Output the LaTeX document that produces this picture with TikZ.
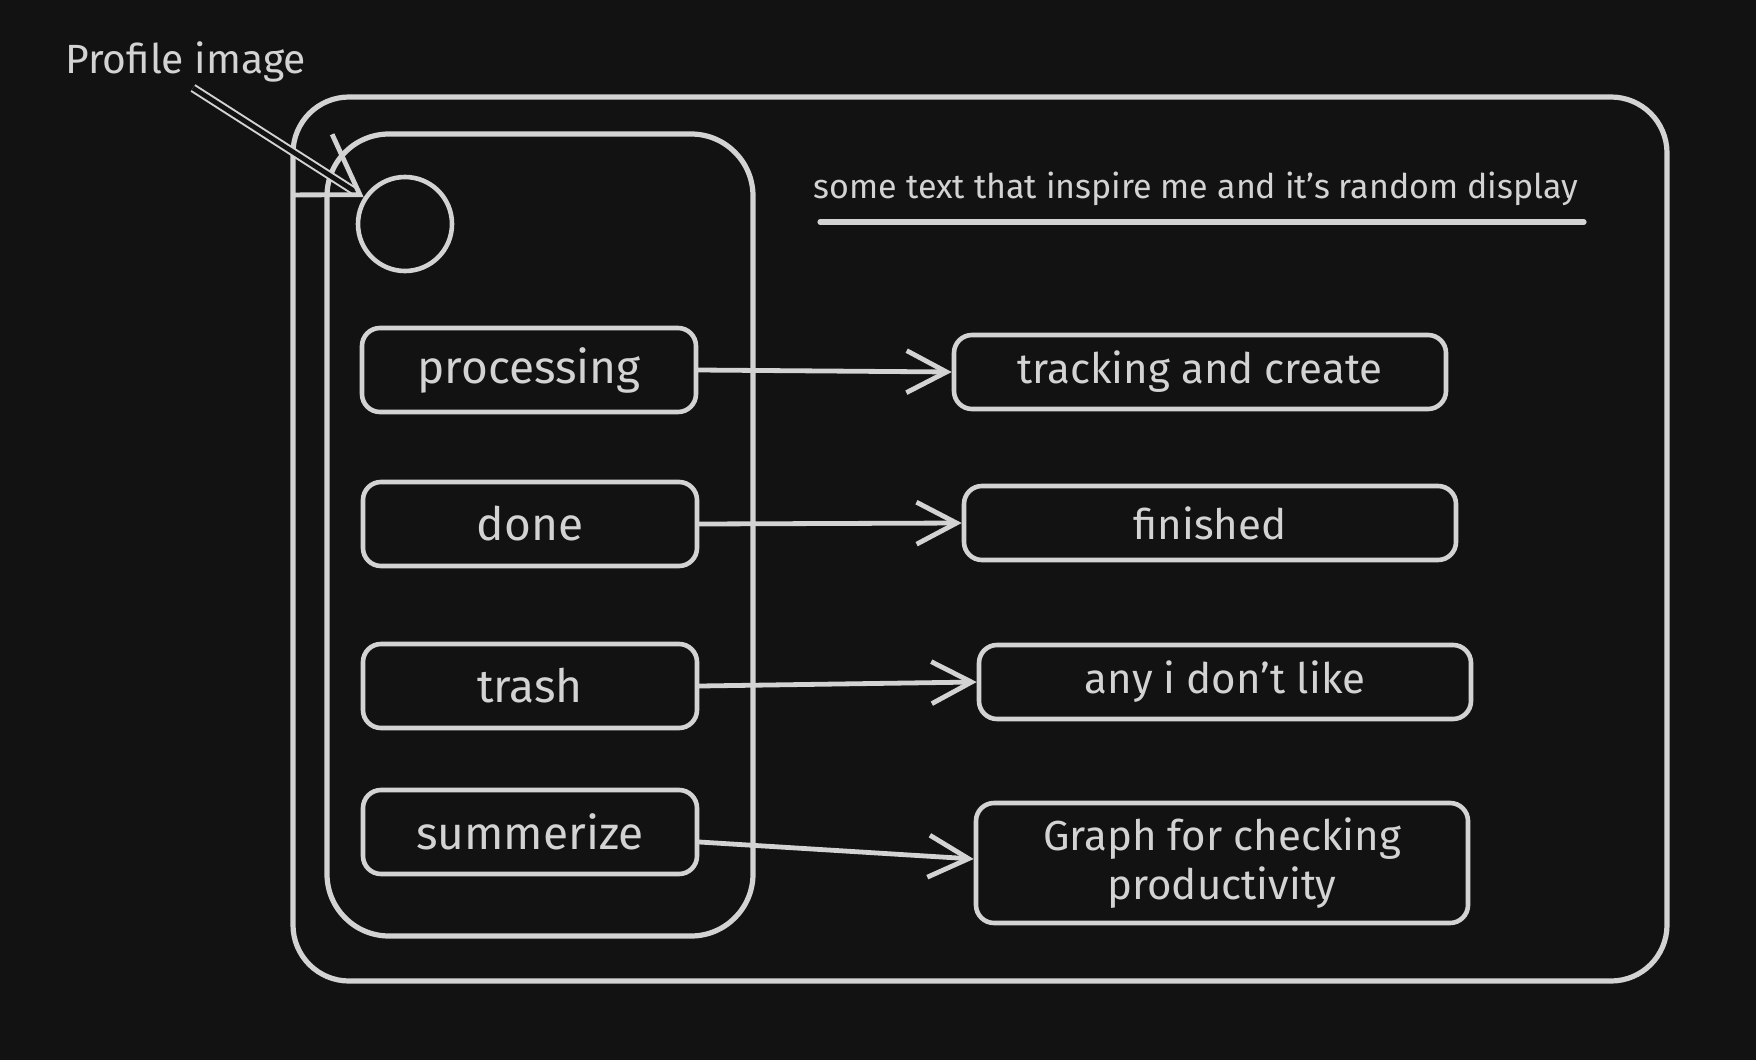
\documentclass[tikz,border=0pt]{standalone}
\usepackage{fontspec}
\setmainfont{Fira Sans}
\usetikzlibrary{arrows.meta}
\definecolor{board}{HTML}{121212}
\definecolor{chalk}{HTML}{D3D3D3}

\begin{document}
\begin{tikzpicture}[x=0.5pt, y=-0.5pt,
  frame/.style={draw=chalk, line width=2.6pt},
  menubtn/.style={draw=chalk, line width=2.3pt, rounded corners=9pt, minimum width=167pt, minimum height=42pt, inner sep=0pt, text=chalk, font=\fontsize{23}{27}\selectfont},
  target/.style={draw=chalk, line width=2.3pt, rounded corners=9pt, minimum width=246pt, minimum height=37pt, inner sep=0pt, align=center, text=chalk, font=\fontsize{21}{24.6}\selectfont},
  wire/.style={draw=chalk, line width=2.4pt, line cap=round, -{Straight Barb[length=20pt, width=21pt]}},
]
\fill[board] (0,0) rectangle (1756,1060);
\useasboundingbox (0,0) rectangle (1756,1060);
% page and sidebar
\draw[frame, rounded corners=28pt] (293,97) rectangle (1667,981);
\draw[frame, rounded corners=31pt] (327,134) rectangle (753,936);
% avatar and its label
\node[draw=chalk, circle, line width=2.3pt, minimum size=47pt, inner sep=0pt] (avatar) at (405,224) {};
\node[text=chalk, font=\fontsize{20.4}{24}\selectfont, anchor=base west, inner sep=0pt] (ptext) at (65,73) {Profile image};
\coordinate (ptail) at (193,88);
\draw[chalk, line width=1pt, double=board, double distance=2.4pt, -{Straight Barb[length=28pt, width=36pt, line width=2.4pt]}] (ptail) -- (avatar.147);
% quote
\node[text=chalk, font=\fontsize{17}{20}\selectfont, anchor=base, inner sep=0pt] (quote) at (1196,198) {some text that inspire me and it's random display};
\draw[chalk, line width=2.6pt, line cap=round] (820,222) -- (1584,222);
% menu
\node[menubtn] (processing) at (529,370) {processing};
\node[menubtn] (done) at (530,524) {done};
\node[menubtn] (trash) at (530,686) {trash};
\node[menubtn] (summerize) at (530,832) {summerize};
% what each entry shows
\node[target] (tracking) at (1200,372) {tracking and create};
\node[target] (finished) at (1210,523) {finished};
\node[target] (dislike) at (1225,682) {any i don't like};
\node[target, minimum height=60pt] (graph) at (1222,863) {Graph for checking\\productivity};
\draw[wire] (processing.east) -- (tracking.west);
\draw[wire] (done.east) -- (finished.west);
\draw[wire] (trash.east) -- (dislike.west);
\draw[wire] ([yshift=-5pt]summerize.east) -- ([yshift=2pt]graph.west);
\end{tikzpicture}
\end{document}
